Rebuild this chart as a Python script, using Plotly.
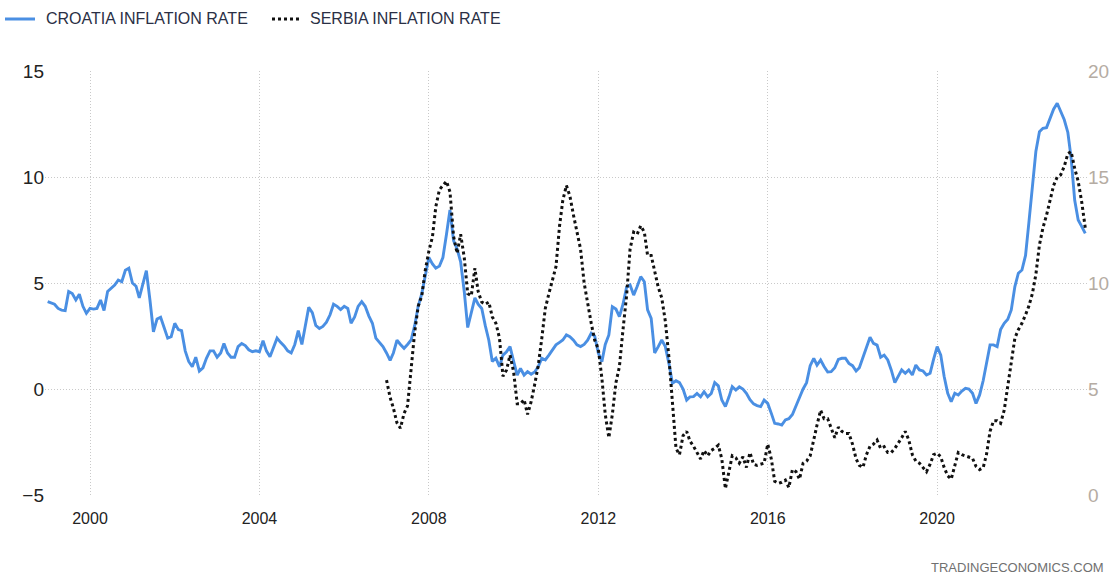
import pandas as pd
import plotly.graph_objects as go

# Croatia inflation rate (%), monthly from 1999-01 (left axis)
croatia_start = "1999-01-01"
croatia = [
    4.12, 4.05, 4.0, 3.8, 3.72, 3.7, 4.6, 4.5, 4.2, 4.47, 3.9, 3.57,
    3.8, 3.77, 3.8, 4.2, 3.7, 4.6, 4.75, 4.9, 5.14, 5.06, 5.6, 5.7,
    5.0, 4.85, 4.3, 5.0, 5.58, 4.2, 2.7, 3.3, 3.38, 2.9, 2.4, 2.47,
    3.1, 2.8, 2.75, 1.8, 1.3, 1.05, 1.5, 0.85, 1.0, 1.45, 1.8, 1.8,
    1.5, 1.7, 2.15, 1.7, 1.5, 1.5, 2.0, 2.15, 2.05, 1.85, 1.76, 1.8,
    1.76, 2.28, 1.8, 1.52, 2.0, 2.4, 2.2, 2.03, 1.8, 1.7, 2.1, 2.75,
    2.1, 3.1, 3.85, 3.6, 3.0, 2.85, 2.95, 3.15, 3.5, 4.0, 3.9, 3.75,
    3.9, 3.8, 3.1, 3.4, 3.9, 4.12, 3.9, 3.45, 3.1, 2.4, 2.2, 2.0,
    1.7, 1.35, 1.7, 2.3, 2.1, 1.92, 2.1, 2.31, 3.0, 3.9, 4.5, 5.3,
    6.2, 5.9, 5.7, 5.8, 6.2, 7.3, 8.44, 7.0, 6.6, 6.0, 4.6, 2.9,
    3.6, 4.3, 4.0, 3.8, 3.0, 2.3, 1.3, 1.45, 1.05, 1.6, 1.76, 2.0,
    1.3, 0.66, 0.97, 0.66, 0.82, 0.7, 0.8, 1.05, 1.45, 1.37, 1.6, 1.84,
    2.08, 2.2, 2.31, 2.55, 2.47, 2.3, 2.08, 2.0, 2.1, 2.3, 2.63, 2.5,
    1.7, 1.29, 2.1, 2.55, 3.88, 3.77, 3.41, 4.0, 4.8, 4.91, 4.43, 4.83,
    5.3, 5.06, 3.73, 3.33, 1.7, 2.0, 2.31, 2.0, 1.21, 0.27, 0.39, 0.3,
    0.0, -0.52, -0.37, -0.36, -0.21, -0.37, -0.13, -0.37, -0.21, 0.3, 0.15, -0.52,
    -0.83, -0.37, 0.11, -0.05, 0.1, 0.0, -0.2, -0.5, -0.7, -0.78, -0.83, -0.52,
    -0.68, -1.15, -1.62, -1.65, -1.7, -1.46, -1.4, -1.2, -0.83, -0.4, 0.0, 0.3,
    1.1, 1.45, 1.13, 1.37, 1.06, 0.8, 0.82, 1.0, 1.4, 1.45, 1.45, 1.21,
    1.1, 0.85, 1.0, 1.5, 1.9, 2.44, 2.15, 2.07, 1.5, 1.6, 1.37, 0.9,
    0.3, 0.6, 0.9, 0.74, 0.9, 0.66, 1.13, 0.9, 0.85, 0.66, 0.74, 1.4,
    2.0, 1.6, 0.6, -0.2, -0.6, -0.2, -0.28, -0.1, 0.03, 0.0, -0.2, -0.68,
    -0.28, 0.4, 1.2, 2.08, 2.08, 2.0, 2.8, 3.1, 3.29, 3.73, 4.83, 5.46,
    5.61, 6.3, 7.8, 9.6, 11.2, 12.14, 12.3, 12.33, 12.8, 13.2, 13.48, 13.1,
    12.7, 12.1, 10.9, 8.9, 7.97, 7.66, 7.34,
]

# Serbia inflation rate (%), monthly from 2007-01 (right axis)
serbia_start = "2007-01-01"
serbia = [
    5.42, 4.6, 4.1, 3.4, 3.15, 3.85, 4.2, 5.8, 7.7, 8.9, 9.4, 10.6,
    11.5, 12.18, 13.6, 14.4, 14.6, 14.8, 14.3, 12.2, 11.4, 12.3, 11.2, 9.5,
    9.4, 10.7, 9.6, 9.1, 9.0, 9.1, 8.4, 8.1, 7.4, 5.6, 5.9, 6.6,
    5.8, 4.3, 4.3, 4.5, 3.8, 4.4, 5.2, 6.1, 7.4, 8.8, 9.5, 10.1,
    10.77, 12.7, 13.9, 14.6, 14.1, 13.2, 12.4, 11.6, 10.0, 9.04, 8.1, 7.3,
    6.9, 5.5, 3.8, 2.7, 3.8, 5.3, 6.05, 7.8, 9.4, 11.6, 12.4, 12.3,
    12.7, 12.4, 11.3, 11.3, 10.6, 9.8, 9.3, 8.2, 6.5, 4.2, 2.2, 1.9,
    2.8, 3.0, 2.55, 2.3, 2.0, 1.7, 2.1, 1.85, 2.1, 2.2, 2.35, 1.7,
    0.3, 1.2, 1.85, 1.75, 1.5, 1.8, 1.3, 2.0, 1.45, 1.4, 1.45, 1.5,
    2.4, 1.7, 0.65, 0.55, 0.6, 0.7, 0.35, 1.2, 1.1, 0.75, 1.5, 1.6,
    1.85, 2.7, 3.3, 4.0, 3.6, 3.6, 3.2, 2.7, 3.2, 3.0, 2.9, 2.9,
    2.4, 1.7, 1.4, 1.3, 1.9, 2.3, 2.4, 2.59, 2.2, 2.28, 2.0, 2.0,
    2.2, 2.44, 2.7, 3.0, 2.6, 1.9, 1.6, 1.5, 1.3, 1.1, 1.45, 1.9,
    1.97, 1.8, 1.3, 0.9, 0.75, 1.4, 2.0, 1.9, 1.85, 1.8, 1.73, 1.35,
    1.2, 1.3, 1.9, 3.0, 3.5, 3.5, 3.38, 4.0, 5.2, 6.4, 7.4, 7.8,
    8.1, 8.5, 8.9, 9.5, 10.4, 11.8, 12.6, 13.2, 13.9, 14.6, 15.0, 15.1,
    15.5, 16.1, 16.2, 15.4, 14.8, 13.8, 12.6,
]

series_names = ["CROATIA INFLATION RATE", "SERBIA INFLATION RATE"]
year_ticks = ["2000", "2004", "2008", "2012", "2016", "2020"]
left_ticks = [-5, 0, 5, 10, 15]
right_ticks = [0, 5, 10, 15, 20]

croatia_dates = pd.date_range(croatia_start, periods=len(croatia), freq="MS")
serbia_dates = pd.date_range(serbia_start, periods=len(serbia), freq="MS")

FONT = "Liberation Sans, Arial, sans-serif"
BLUE = "#4a8fe3"
BLACK = "#111111"
GRID = "#c9c9c9"

fig = go.Figure()
fig.add_trace(go.Scatter(
    x=croatia_dates, y=croatia, name=series_names[0],
    mode="lines", line=dict(color=BLUE, width=2.9), yaxis="y",
))
fig.add_trace(go.Scatter(
    x=serbia_dates, y=serbia, name=series_names[1],
    mode="lines", line=dict(color=BLACK, width=3, dash="dot"), yaxis="y2",
))

# manual legend (paper coords; plot area spans x 45..1087 px, y 71..495 px)
W, H, L, B = 1042.0, 424.0, 45.0, 495.0
def px(xp):
    return (xp - L) / W
def py(yp):
    return (B - yp) / H

leg_y = py(19)
shapes = [
    dict(type="line", xref="paper", yref="paper", x0=px(5), x1=px(35), y0=leg_y, y1=leg_y,
         line=dict(color=BLUE, width=3)),
    dict(type="line", xref="paper", yref="paper", x0=px(272), x1=px(301), y0=leg_y, y1=leg_y,
         line=dict(color=BLACK, width=3, dash="3px,3px")),
]
annotations = [
    dict(text=series_names[0], xref="paper", yref="paper", x=px(44), y=leg_y,
         xanchor="left", yanchor="middle", showarrow=False,
         font=dict(family=FONT, size=16, color="#2a2f45")),
    dict(text=series_names[1], xref="paper", yref="paper", x=px(308), y=leg_y,
         xanchor="left", yanchor="middle", showarrow=False,
         font=dict(family=FONT, size=16, color="#2a2f45")),
    dict(text="TRADINGECONOMICS.COM", xref="paper", yref="paper",
         x=px(1106), y=py(567), xanchor="right", yanchor="middle", showarrow=False,
         font=dict(family=FONT, size=13, color="#707070")),
]

fig.update_layout(
    width=1114, height=575,
    margin=dict(l=45, r=27, t=71, b=80, autoexpand=False),
    paper_bgcolor="white", plot_bgcolor="white",
    showlegend=False,
    shapes=shapes,
    annotations=annotations,
    xaxis=dict(
        type="date",
        range=["1998-12-09", "2023-07-16"],
        tickvals=[f"{y}-01-01" for y in year_ticks],
        ticktext=year_ticks,
        showgrid=True, gridcolor=GRID, griddash="1px,2px", gridwidth=1,
        zeroline=False, showline=False, ticks="", automargin=False,
        tickfont=dict(family=FONT, size=16, color="#222222"),
        ticklabelstandoff=12,
    ),
    yaxis=dict(
        range=[-5, 15], tickvals=left_ticks,
        showgrid=True, gridcolor=GRID, griddash="1px,2px", gridwidth=1,
        zeroline=False, showline=False, ticks="", automargin=False,
        tickfont=dict(family=FONT, size=19, color="#222222"),
    ),
    yaxis2=dict(
        range=[0, 20], tickvals=right_ticks, overlaying="y", side="right",
        showgrid=False, zeroline=False, showline=False, ticks="", automargin=False,
        tickfont=dict(family=FONT, size=19, color="#b5aca3"),
    ),
)

fig.write_html(
    "out.html",
    config={"displayModeBar": False},
    post_script="document.body.style.margin='0';document.body.style.padding='0';"
                "document.documentElement.style.overflow='hidden';",
)
